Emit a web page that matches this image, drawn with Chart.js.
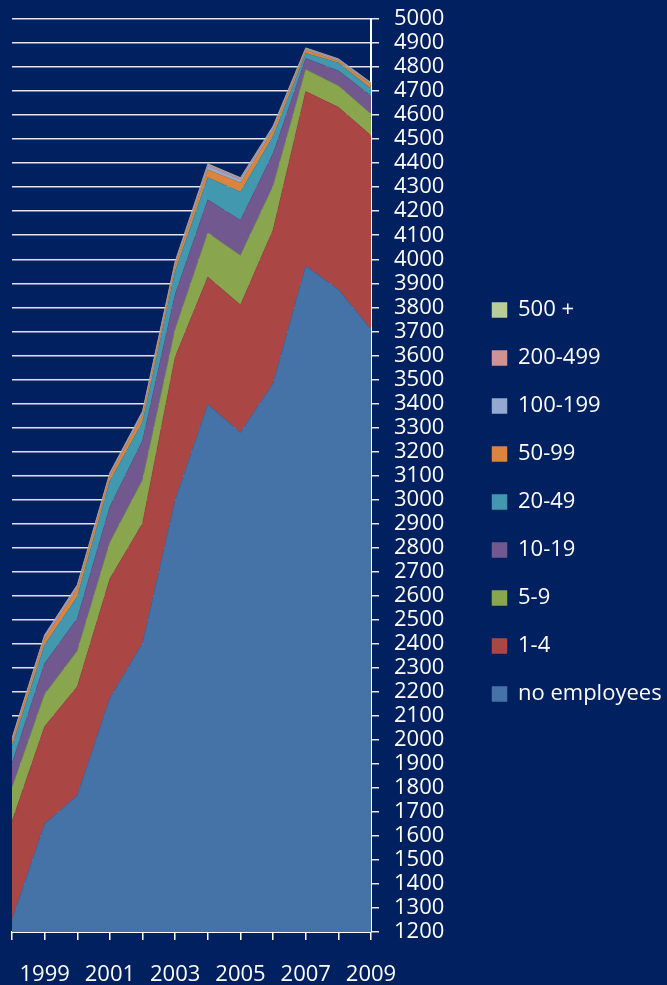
<!DOCTYPE html>
<html>
<head>
<meta charset="utf-8">
<title>Firms by number of employees</title>
<script src="https://cdn.jsdelivr.net/npm/chart.js@4/dist/chart.umd.min.js"></script>
<style>
  html, body { margin: 0; padding: 0; background: #00205f; }
  #wrap { width: 667px; height: 985px; position: relative; }
</style>
</head>
<body>
<div id="wrap"><canvas id="firmsArea"></canvas></div>
<script>
// Years on the category axis, and which of them get a label
const years = ['1998', '1999', '2000', '2001', '2002', '2003', '2004', '2005', '2006', '2007', '2008', '2009'];
const shownYears = ['1999', '2001', '2003', '2005', '2007', '2009'];

// Number of firms per size class (stacked, bottom first)
const noEmployees = [1251, 1650, 1768, 2173, 2402, 2997, 3395, 3279, 3483, 3972, 3874, 3708];
const emp1to4 = [409, 405, 453, 497, 498, 596, 531, 531, 639, 726, 759, 807];
const emp5to9 = [139, 135, 149, 152, 181, 116, 184, 206, 183, 92, 89, 90];
const emp10to19 = [102, 128, 135, 148, 164, 145, 138, 146, 135, 46, 63, 75];
const emp20to49 = [71, 77, 90, 107, 77, 96, 92, 118, 72, 21, 33, 30];
const emp50to99 = [23, 27, 35, 23, 30, 25, 33, 38, 26, 14, 8, 17];
const emp100to199 = [7, 10, 10, 7, 10, 10, 14, 14, 10, 5, 5, 5];
const emp200to499 = [3, 3, 3, 3, 3, 4, 6, 5, 4, 2, 2, 2];
const emp500plus = [2, 2, 2, 2, 3, 3, 5, 3, 3, 2, 2, 2];

// Y axis range
const yMin = 1200;
const yMax = 5000;
const yStep = 100;

const seriesNames = ['no employees', '1-4', '5-9', '10-19', '20-49', '50-99', '100-199', '200-499', '500 +'];
const seriesData = [noEmployees, emp1to4, emp5to9, emp10to19, emp20to49, emp50to99, emp100to199, emp200to499, emp500plus];
const seriesColors = ['#4572a7', '#aa4643', '#89a54e', '#71588f', '#4198af', '#db843d', '#93a9cf', '#d19392', '#b9cd96'];

const fontFamily = '"Open Sans", "Noto Sans", sans-serif';

function buildDatasets() {
  return seriesNames.map((name, i) => ({
    label: name,
    data: seriesData[i],
    backgroundColor: seriesColors[i],
    borderColor: seriesColors[i],
    borderWidth: 0.5,
    pointRadius: 0,
    tension: 0,
    fill: i === 0 ? 'start' : '-1'
  }));
}

function renderFirmsArea() {
  const canvas = document.getElementById('firmsArea');
  if (!canvas) {
    console.error('Canvas element firmsArea not found!');
    return;
  }

  const ctx = canvas.getContext('2d');
  new Chart(ctx, {
    type: 'line',
    data: {
      labels: years,
      datasets: buildDatasets()
    },
    options: {
      responsive: true,
      maintainAspectRatio: false,
      animation: false,
      layout: {
        padding: { left: 12, top: 19, right: 0, bottom: 0 }
      },
      plugins: {
        tooltip: { enabled: false },
        legend: {
          position: 'right',
          reverse: true,
          maxWidth: 201,
          labels: {
            color: '#ffffff',
            boxWidth: 15,
            boxHeight: 15,
            padding: 26,
            font: { family: fontFamily, size: 22 }
          }
        }
      },
      scales: {
        x: {
          offset: false,
          afterFit: function(scale) {
            // fixed band under the plot, labels sit well below the ticks
            scale.height = 53;
            scale.paddingLeft = 0;
            scale.paddingRight = 0;
          },
          grid: {
            drawOnChartArea: false,
            drawTicks: true,
            tickLength: 8,
            color: '#ffffff',
            lineWidth: 1.5
          },
          border: { color: '#ffffff', width: 2 },
          ticks: {
            color: '#ffffff',
            autoSkip: false,
            maxRotation: 0,
            padding: 22,
            font: { family: fontFamily, size: 22 },
            callback: function(value, index) {
              const label = years[index];
              return shownYears.includes(label) ? label : '';
            }
          }
        },
        y: {
          position: 'right',
          stacked: true,
          min: yMin,
          max: yMax,
          afterFit: function(scale) {
            scale.width = 95;
            scale.paddingTop = 0;
            scale.paddingBottom = 0;
          },
          grid: {
            color: '#e4e4e4',
            lineWidth: 1.5,
            tickLength: 8
          },
          border: { color: '#ffffff', width: 2 },
          ticks: {
            stepSize: yStep,
            autoSkip: false,
            color: '#ffffff',
            padding: 15,
            font: { family: fontFamily, size: 22 },
            callback: function(value) {
              return String(value);
            }
          }
        }
      }
    }
  });
  console.log('Firms area chart rendered');
}

document.addEventListener('DOMContentLoaded', function() {
  renderFirmsArea();
});
</script>
</body>
</html>
